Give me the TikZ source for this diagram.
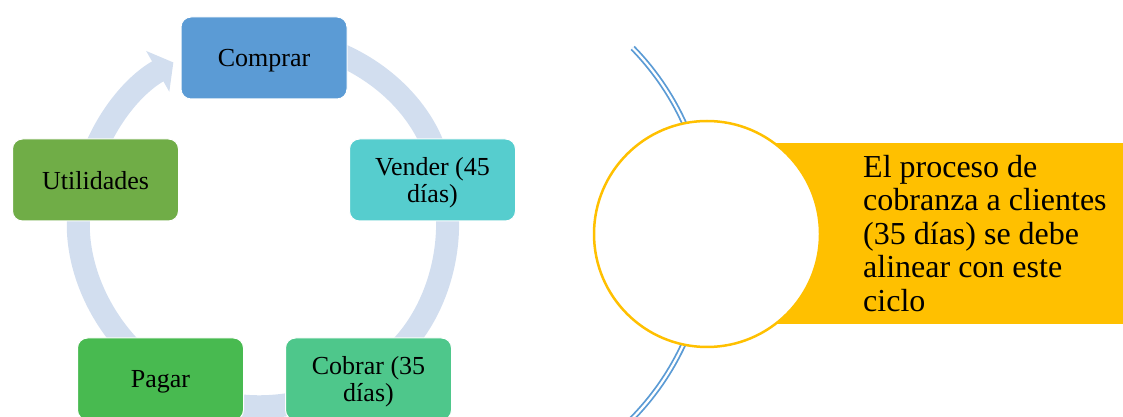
\documentclass[tikz,border=0pt]{standalone}
\usepackage{fontspec}
\setmainfont{Liberation Serif}
\usetikzlibrary{arrows.meta}
\definecolor{cComprar}{HTML}{5B9BD5}
\definecolor{cVender}{HTML}{56CDCE}
\definecolor{cCobrar}{HTML}{4EC78B}
\definecolor{cPagar}{HTML}{48BA50}
\definecolor{cUtil}{HTML}{70AD47}
\definecolor{ringcol}{HTML}{D2DEEF}
\definecolor{cYellow}{HTML}{FFC000}
\definecolor{arcblue}{HTML}{5B9BD5}
\begin{document}
\begin{tikzpicture}[x=1pt,y=1pt,
  box/.style={rounded corners=10pt, draw=white, line width=1pt, minimum width=166pt, minimum height=82pt, align=center, inner sep=2pt, text depth=0pt, font=\fontsize{26}{27}\selectfont, text=black},
  ring/.style={draw=ringcol, line width=23pt, line cap=butt, -{Triangle[length=18pt,width=46pt]}},
  dblarc/.style={draw=arcblue, double=white, line width=1.8pt, double distance=2.2pt}]
\useasboundingbox (0,0) rectangle (1123,417);
\coordinate (rc) at (264,195);
% ring arrows
\draw[ring] ([shift={(90:183.5)}]rc) arc[start angle=90,end angle=14,radius=183.5];
\draw[ring] ([shift={(14:183.5)}]rc) arc[start angle=14,end angle=-56.4,radius=183.5];
\draw[ring] ([shift={(-56.4:183.5)}]rc) arc[start angle=-56.4,end angle=-123.4,radius=183.5];
\draw[ring] ([shift={(-123.4:183.5)}]rc) arc[start angle=-123.4,end angle=-194,radius=183.5];
\draw[ring] ([shift={(166:183.5)}]rc) arc[start angle=166,end angle=119.6,radius=183.5];
% boxes
\node[box, fill=cComprar] (comprar) at (264,359) {Comprar};
\node[box, fill=cVender] (vender) at (432.5,237) {Vender (45\\días)};
\node[box, fill=cCobrar] (cobrar) at (368.5,38) {Cobrar (35\\días)};
\node[box, fill=cPagar] (pagar) at (160.5,38) {Pagar};
\node[box, fill=cUtil] (util) at (95.5,237) {Utilidades};
% right part
\coordinate (ac) at (443,184);
\draw[dblarc] ([shift={(44.3:265)}]ac) arc[start angle=44.3,end angle=-46,radius=265];
\fill[cYellow] (707,93) rectangle (1123,274);
\node[circle, draw=cYellow, line width=2.5pt, fill=white, minimum size=226pt, inner sep=0pt] (circ) at (707,183) {};
\node[anchor=north west, align=left, inner sep=0pt, font=\fontsize{32}{33.5}\selectfont] (txt) at (863,262) {El proceso de\\cobranza a clientes\\(35 días) se debe\\alinear con este\\ciclo};
\end{tikzpicture}
\end{document}
